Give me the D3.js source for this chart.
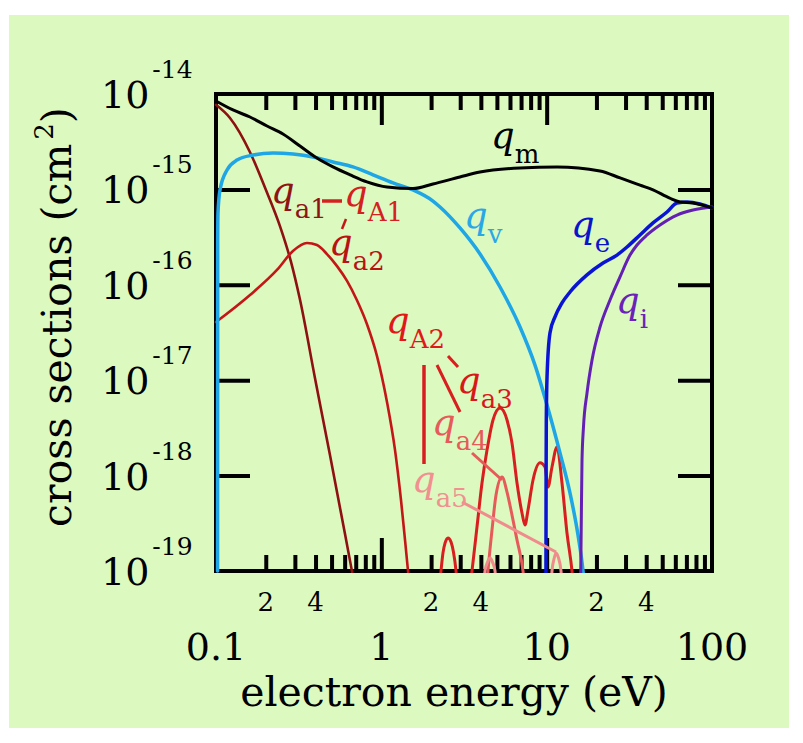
<!DOCTYPE html>
<html><head><meta charset="utf-8">
<script src="https://cdn.jsdelivr.net/npm/d3@7"></script>
<style>html,body{margin:0;padding:0;background:#fff;} svg{display:block;}</style>
</head><body>
<svg id="chart" width="803" height="743"></svg>
<script>
// ---------- data ----------
const xMajorLabels = [[0.1, "0.1"], [1, "1"], [10, "10"], [100, "100"]];
const xMinorLabels = [[0.2, "2"], [0.4, "4"], [2, "2"], [4, "4"], [20, "2"], [40, "4"]];
const yDecades = [1e-14, 1e-15, 1e-16, 1e-17, 1e-18, 1e-19];
const yExponents = ["-14", "-15", "-16", "-17", "-18", "-19"];

// momentum transfer
const qm = [[0.1, 8.45e-15], [0.1267, 6.8e-15], [0.1606, 5.74e-15], [0.2035, 4.62e-15], [0.254, 3.81e-15],
  [0.322, 2.85e-15], [0.408, 2.13e-15], [0.51, 1.72e-15], [0.648, 1.42e-15], [0.818, 1.2e-15], [1.082, 1.06e-15],
  [1.555, 1.02e-15], [2.053, 1.14e-15], [2.99, 1.35e-15], [3.95, 1.52e-15], [6.9, 1.68e-15], [11.55, 1.72e-15],
  [21.0, 1.56e-15], [27.8, 1.32e-15], [36.7, 1.11e-15], [44.0, 9.9e-16], [55.5, 8.1e-16], [64.1, 7.4e-16],
  [76.8, 7.2e-16], [100, 6.4e-16]];
// vibrational
const qv = [[0.1022, 1e-19], [0.1024, 2.95e-16], [0.1028, 5.66e-16], [0.1057, 9.86e-16], [0.1166, 1.6e-15],
  [0.134, 2.03e-15], [0.1674, 2.29e-15], [0.2212, 2.41e-15], [0.2923, 2.35e-15], [0.3862, 2.19e-15],
  [0.51, 1.94e-15], [0.674, 1.72e-15], [0.891, 1.42e-15], [1.177, 1.17e-15], [1.555, 9.86e-16],
  [2.053, 7.55e-16], [2.264, 6.54e-16], [2.991, 3.94e-16], [3.954, 2.1e-16], [5.222, 9.48e-17], [6.9, 3.61e-17],
  [8.5, 1.44e-17], [10.05, 5.5e-18], [12.04, 1.73e-18], [13.84, 6.57e-19], [15.47, 2.38e-19], [16.59, 1e-19], [16.8, 8e-20]];
// electronic excitation
const qe = [[9.9, 8e-20], [9.92, 9e-19], [9.95, 3.83e-18], [10.05, 1.08e-17], [10.47, 3.13e-17], [11.23, 4.6e-17],
  [12.38, 6.45e-17], [13.84, 8.41e-17], [17.54, 1.27e-16], [21.92, 1.69e-16], [26.64, 2.05e-16], [30.61, 2.49e-16],
  [36.69, 3.33e-16], [43.98, 4.45e-16], [53.43, 5.8e-16], [61.43, 7.2e-16], [70.64, 7.38e-16], [84.6, 7.03e-16],
  [100, 6.38e-16]];
// ionization
const qi = [[16.05, 8e-20], [16.2, 3.43e-19], [16.36, 1.46e-18], [16.7, 3.23e-18], [17.54, 7.34e-18],
  [18.81, 1.63e-17], [21.02, 3.61e-17], [24.16, 6.93e-17], [27.77, 1.21e-16], [31.92, 2.05e-16],
  [35.19, 2.61e-16], [40.45, 3.33e-16], [48.48, 4.24e-16], [61.43, 5.39e-16], [76.78, 6.08e-16], [100, 6.54e-16]];
// attachment
const qa1 = [[0.1, 7.7e-15], [0.1215, 5.6e-15], [0.1606, 2.45e-15], [0.198, 1.04e-15], [0.244, 4.1e-16],
  [0.284, 1.75e-16], [0.322, 7.0e-17], [0.397, 1.05e-17], [0.489, 1.64e-18], [0.603, 2.44e-19], [0.664, 1e-19], [0.69, 7e-20]];
const qa2 = [[0.1, 4.07e-17], [0.1606, 7.82e-17], [0.2337, 1.43e-16], [0.292, 2.26e-16], [0.355, 2.74e-16],
  [0.408, 2.61e-16], [0.469, 2.1e-16], [0.5395, 1.57e-16], [0.62, 1.1e-16], [0.711, 6.93e-17], [0.818, 3.88e-17],
  [0.9414, 1.79e-17], [1.082, 5.91e-18], [1.21, 1.85e-18], [1.315, 5.55e-19], [1.391, 2.11e-19], [1.45, 1e-19], [1.48, 7e-20]];
const qA2 = [[2.25, 7e-20], [2.295, 1e-19], [2.36, 1.55e-19], [2.43, 1.97e-19], [2.53, 2.22e-19], [2.64, 2.01e-19],
  [2.73, 1.58e-19], [2.83, 1e-19], [2.88, 7e-20]];
const qa3 = [[3.45, 7e-20], [3.535, 1e-19], [3.789, 2.89e-19], [4.063, 8.36e-19], [4.357, 1.85e-18], [4.737, 3.83e-18],
  [5.222, 5.11e-18], [5.757, 3.83e-18], [6.17, 2.2e-18], [6.616, 8.36e-19], [7.092, 4.06e-19], [7.396, 3.03e-19],
  [7.712, 4.36e-19], [8.27, 9.0e-19], [9.116, 1.36e-18], [9.77, 1.23e-18], [10.19, 7.6e-19], [10.77, 1.23e-18],
  [11.55, 2.0e-18], [12.38, 8.36e-19], [13.27, 2.5e-19], [14.23, 1e-19], [14.5, 7e-20]];
const qa4 = [[4.35, 7e-20], [4.418, 1e-19], [4.671, 2.69e-19], [4.939, 6.26e-19], [5.37, 9.67e-19], [5.757, 6.73e-19],
  [6.17, 3.86e-19], [6.616, 2.11e-19], [7.192, 1e-19], [7.35, 7e-20]];
const qa5 = [[4.15, 6e-20], [4.237, 1e-19], [4.387, 1.24e-19], [4.543, 1.37e-19], [4.704, 1.24e-19], [4.871, 1e-19],
  [4.95, 6e-20], [10.6, 6e-20], [10.77, 1e-19], [11.08, 1.34e-19], [11.39, 1.545e-19], [11.79, 1.37e-19],
  [12.21, 1e-19], [12.35, 6e-20]];

const series = [
  {data: qa1, color: "#8e1010", w: 2.6},
  {data: qa2, color: "#c41616", w: 2.6},
  {data: qA2, color: "#d81e1e", w: 3},
  {data: qa3, color: "#d81e1e", w: 3},
  {data: qa4, color: "#e65a5a", w: 3},
  {data: qa5, color: "#f08c8c", w: 3},
  {data: qv, color: "#1ea6e6", w: 3.5},
  {data: qi, color: "#6420b4", w: 3},
  {data: qe, color: "#0a14d4", w: 3.5},
  {data: qm, color: "#000000", w: 3}
];

// ---------- layout ----------
const L = 216, R = 712, T = 94, B = 571;
const svg = d3.select("#chart");
const x = d3.scaleLog().domain([0.1, 100]).range([L, R]);
const y = d3.scaleLog().domain([1e-19, 1e-14]).range([B, T]);
const FONT = "DejaVu Serif";

svg.append("rect").attr("x", 9).attr("y", 15).attr("width", 780).attr("height", 713).attr("fill", "#dcf9c0");

// frame
svg.append("rect").attr("x", L).attr("y", T).attr("width", R - L).attr("height", B - T)
  .attr("fill", "none").attr("stroke", "#000").attr("stroke-width", 4);

const isPow10 = v => Math.abs(Math.log10(v) - Math.round(Math.log10(v))) < 1e-9;
const minorX = x.ticks().filter(v => !isPow10(v));
const majorX = x.ticks().filter(v => isPow10(v) && v > 0.1 && v < 100);
const majorY = yDecades.filter(v => v < 1e-14 && v > 1e-19);

function styleAxis(g) {
  g.select(".domain").remove();
  g.selectAll("text").remove();
  g.selectAll("line").attr("stroke", "#000").attr("stroke-width", 4);
}
svg.append("g").attr("transform", `translate(0,${B})`).call(d3.axisBottom(x).tickValues(minorX).tickSize(-16).tickFormat("")).call(styleAxis);
svg.append("g").attr("transform", `translate(0,${B})`).call(d3.axisBottom(x).tickValues(majorX).tickSize(-33).tickFormat("")).call(styleAxis);
svg.append("g").attr("transform", `translate(0,${T})`).call(d3.axisTop(x).tickValues(minorX).tickSize(-16).tickFormat("")).call(styleAxis);
svg.append("g").attr("transform", `translate(0,${T})`).call(d3.axisTop(x).tickValues(majorX).tickSize(-31).tickFormat("")).call(styleAxis);
svg.append("g").attr("transform", `translate(${L},0)`).call(d3.axisLeft(y).tickValues(majorY).tickSize(-34).tickFormat("")).call(styleAxis);
svg.append("g").attr("transform", `translate(${R},0)`).call(d3.axisRight(y).tickValues(majorY).tickSize(-34).tickFormat("")).call(styleAxis);

// curves
svg.append("clipPath").attr("id", "clip").append("rect").attr("x", L - 3).attr("y", T - 3).attr("width", R - L + 6).attr("height", B - T + 5);
const line = d3.line().x(d => x(d[0])).y(d => y(d[1])).curve(d3.curveMonotoneX);
const gc = svg.append("g").attr("clip-path", "url(#clip)");
series.forEach(s => {
  gc.append("path").attr("d", line(s.data)).attr("fill", "none").attr("stroke", s.color)
    .attr("stroke-width", s.w).attr("stroke-linejoin", "round").attr("stroke-linecap", "round");
});

// leader lines (annotation layout)
const leaders = [
  {p: [[322, 201], [342, 201]], color: "#d42020", w: 3.5},
  {p: [[346, 219], [342, 229]], color: "#c41616", w: 2.5},
  {p: [[424, 365], [424, 464]], color: "#d81e1e", w: 3.5},
  {p: [[437, 365], [460, 412]], color: "#d81e1e", w: 3},
  {p: [[448, 356], [458, 367]], color: "#d81e1e", w: 3},
  {p: [[472, 453], [502, 480]], color: "#e65a5a", w: 3},
  {p: [[462, 502], [556, 552]], color: "#f08c8c", w: 3}
];
leaders.forEach(l => svg.append("line").attr("x1", l.p[0][0]).attr("y1", l.p[0][1]).attr("x2", l.p[1][0]).attr("y2", l.p[1][1])
  .attr("stroke", l.color).attr("stroke-width", l.w));

// curve labels
const labels = [
  {sub: "m", x: 491, y: 148, color: "#000000"},
  {sub: "v", x: 464, y: 228, color: "#2aa8e6"},
  {sub: "e", x: 571, y: 237, color: "#0a14c8"},
  {sub: "i", x: 616, y: 313, color: "#6a22b8"},
  {sub: "a1", x: 271, y: 203, color: "#8e1414"},
  {sub: "A1", x: 344, y: 206, color: "#d42020"},
  {sub: "a2", x: 329, y: 255, color: "#b81212"},
  {sub: "A2", x: 386, y: 333, color: "#e01818"},
  {sub: "a3", x: 457, y: 393, color: "#d81818"},
  {sub: "a4", x: 432, y: 435, color: "#e65a5a"},
  {sub: "a5", x: 412, y: 492, color: "#f29090"}
];
labels.forEach(l => {
  const t = svg.append("text").attr("x", l.x).attr("y", l.y).attr("fill", l.color).attr("font-family", FONT);
  t.append("tspan").attr("font-style", "italic").attr("font-size", 37).text("q");
  t.append("tspan").attr("font-size", 26).attr("dy", 15).text(l.sub);
});

// y tick labels
yDecades.forEach((v, i) => {
  const t = svg.append("text").attr("x", 101).attr("y", y(v) + 14).attr("font-family", FONT).attr("fill", "#000");
  t.append("tspan").attr("font-size", 38).text("10");
  t.append("tspan").attr("font-size", 25).attr("dx", 3).attr("dy", -30).text(yExponents[i]);
});
// x tick labels
xMajorLabels.forEach(([v, s]) => svg.append("text").attr("x", x(v)).attr("y", 660).attr("text-anchor", "middle")
  .attr("font-family", FONT).attr("font-size", 38).text(s));
xMinorLabels.forEach(([v, s]) => svg.append("text").attr("x", x(v)).attr("y", 611).attr("text-anchor", "middle")
  .attr("font-family", FONT).attr("font-size", 26).text(s));

// axis titles
svg.append("text").attr("x", 454).attr("y", 706).attr("text-anchor", "middle").attr("font-family", FONT)
  .attr("font-size", 41).text("electron energy (eV)");
const yt = svg.append("text").attr("transform", "translate(71,317) rotate(-90)").attr("text-anchor", "middle")
  .attr("font-family", FONT).attr("font-size", 41);
yt.append("tspan").text("cross sections (cm");
yt.append("tspan").attr("font-size", 26).attr("dy", -18).attr("dx", 4).text("2");
yt.append("tspan").attr("dy", 18).text(")");
</script>
</body></html>
